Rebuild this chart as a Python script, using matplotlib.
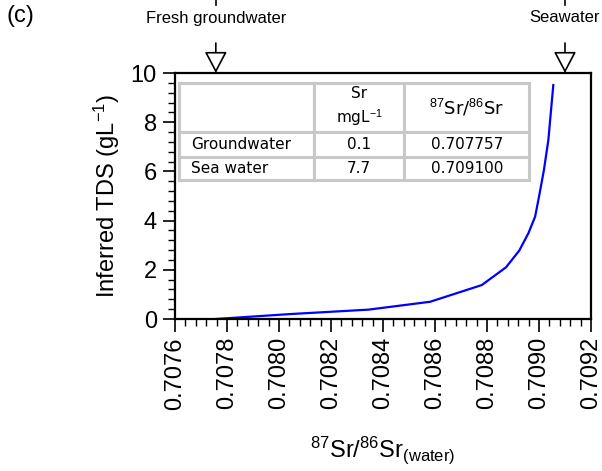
import numpy as np
import matplotlib
matplotlib.use('Agg')
import matplotlib.pyplot as plt
from matplotlib.ticker import AutoMinorLocator, MultipleLocator
from matplotlib.transforms import blended_transform_factory

plt.rcParams['font.family'] = ['Liberation Sans', 'DejaVu Sans']
plt.rcParams['mathtext.fontset'] = 'custom'
plt.rcParams['mathtext.rm'] = 'Liberation Sans'
plt.rcParams['mathtext.it'] = 'Liberation Sans:italic'

# mixing curve
sr_ratio = [0.707757, 0.708042, 0.708344, 0.708581, 0.708780, 0.708873,
            0.708924, 0.708959, 0.708985, 0.709000, 0.709019, 0.709036,
            0.709055]
tds = [0.0, 0.20, 0.38, 0.70, 1.38, 2.10, 2.78, 3.48, 4.16, 4.97, 6.06,
       7.28, 9.51]

end_members = ['Fresh groundwater', 'Seawater']
end_ratio = [0.707757, 0.709100]

row_names = ['Groundwater', 'Sea water']
sr_conc = ['0.1', '7.7']
ratio_txt = ['0.707757', '0.709100']

fig = plt.figure(figsize=(6.02, 4.71), dpi=100)
ax = fig.add_axes([175/602, 1-319/471, 416/602, 246/471])

ax.plot(sr_ratio, tds, color='#0000ff', lw=1.6)

ax.set_xlim(0.7076, 0.7092)
ax.set_ylim(0, 10)
ax.xaxis.set_major_locator(MultipleLocator(0.0002))
ax.xaxis.set_minor_locator(AutoMinorLocator(5))
ax.yaxis.set_major_locator(MultipleLocator(2))
ax.yaxis.set_minor_locator(AutoMinorLocator(5))
ax.xaxis.set_major_formatter(plt.FuncFormatter(lambda v, p: '%.4f' % v))
ax.tick_params(which='major', direction='out', length=9, width=1.2,
               labelsize=17, pad=4)
ax.tick_params(which='minor', direction='out', length=5, width=1.0)
ax.tick_params(axis='x', labelrotation=90)
for s in ax.spines.values():
    s.set_linewidth(1.6)

ax.set_ylabel('Inferred TDS (gL$^{-1}$)', fontsize=17, labelpad=6)
ax.set_xlabel('$^{87}$Sr/$^{86}$Sr$_{\\rm (water)}$', fontsize=17, labelpad=18)

# end-member arrows
for name, xv in zip(end_members, end_ratio):
    ax.annotate('', xy=(xv, 1.0), xycoords=('data', 'axes fraction'),
                xytext=(xv, 1.0 + 30/246), textcoords=('data', 'axes fraction'),
                arrowprops=dict(arrowstyle='-|>,head_length=0.95,head_width=0.5',
                                mutation_scale=14, fc='white', ec='black',
                                lw=1.2, shrinkA=0, shrinkB=0),
                annotation_clip=False)
    tr = blended_transform_factory(ax.transData, fig.transFigure)
    ax.text(xv, 1-18/471, name, transform=tr, ha='center', va='center',
            fontsize=12)
    ax.plot([xv, xv], [1.0, 1-5/471], transform=tr, color='black', lw=1.2,
            clip_on=False)

fig.text(20/602, 1-16/471, '(c)', ha='center', va='center', fontsize=17)

# table
cells = [['', 'Sr\nmgL$^{-1}$', '$^{87}$Sr/$^{86}$Sr']]
for n, c, r in zip(row_names, sr_conc, ratio_txt):
    cells.append([n, c, r])
tab = ax.table(cellText=cells, bbox=[4.3/416, (319-180)/246, 350/416, 97/246])
tab.auto_set_font_size(False)
col_w = [135, 90, 125]
row_h = [49, 25, 23]
for (r, c), cell in tab.get_celld().items():
    cell.set_width(col_w[c])
    cell.set_height(row_h[r])
    cell.set_edgecolor('#c8c8c8')
    cell.set_linewidth(2.2)
    txt = cell.get_text()
    txt.set_fontsize(11)
    txt.set_family('DejaVu Sans')
    if c == 0:
        txt.set_ha('left')
        cell.PAD = 0.09
    else:
        txt.set_ha('center')
    if r == 0 and c == 1:
        txt.set_linespacing(1.45)
    if r == 0 and c == 2:
        txt.set_fontsize(13)

fig.savefig('out.png', dpi=100)
